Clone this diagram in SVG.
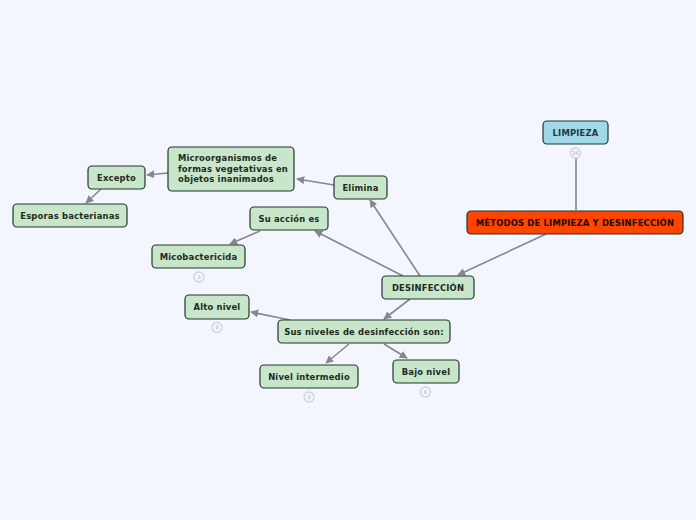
<svg xmlns="http://www.w3.org/2000/svg" width="696" height="520" viewBox="0 0 696 520">
<defs>
<marker id="ah" viewBox="0 0 10 10" refX="9" refY="5" markerWidth="8" markerHeight="8" markerUnits="userSpaceOnUse" orient="auto"><path d="M0,0 L10,5 L0,10 z" fill="#86868e"/></marker>
<style>
.n rect{fill:#c8e6c9;stroke:#25352a;stroke-width:1.2}
.n text{font-family:"DejaVu Sans",Verdana,sans-serif;font-weight:bold;font-size:8.4px;letter-spacing:0.2px;fill:#1e2a22}
.c line{stroke:#86868e;stroke-width:1.6;marker-end:url(#ah)}
.b circle{fill:#f3f6fe;stroke:#cfd1dc;stroke-width:1.3}
.b text{font-family:"DejaVu Sans",sans-serif;font-size:5px;fill:#b0b2be;text-anchor:middle}
</style>
</defs>
<rect width="696" height="520" fill="#f3f6fe"/>
<g class="c" id="connectors">
<line x1="546" y1="234" x2="458" y2="275"/>
<line x1="576" y1="210" x2="576" y2="150" style="marker-end:none"/>
<line x1="403" y1="276" x2="315" y2="231"/>
<line x1="420" y1="276" x2="370" y2="200"/>
<line x1="410" y1="299" x2="384" y2="319"/>
<line x1="334" y1="185" x2="297" y2="179"/>
<line x1="168" y1="173" x2="147" y2="175"/>
<line x1="101" y1="189" x2="86" y2="203"/>
<line x1="260" y1="231" x2="230" y2="244"/>
<line x1="290" y1="320" x2="251" y2="312"/>
<line x1="349" y1="344" x2="326" y2="363"/>
<line x1="384" y1="344" x2="407" y2="358"/>
</g>
<g class="n" id="limpieza"><rect x="543" y="121" width="65" height="23" rx="4" style="fill:#a0d8e6"/><text x="575.5" y="135.5" text-anchor="middle" style="fill:#243845">LIMPIEZA</text></g>
<g class="n" id="metodos"><rect x="467" y="211" width="216" height="23" rx="4" style="fill:#ff4500"/><text x="575" y="225.5" text-anchor="middle" style="fill:#1a0a05">MÉTODOS DE LIMPIEZA Y DESINFECCIÓN</text></g>
<g class="n" id="desinfeccion"><rect x="382" y="276" width="92" height="23" rx="4"/><text x="428" y="290.5" text-anchor="middle">DESINFECCIÓN</text></g>
<g class="n" id="elimina"><rect x="334" y="176" width="53" height="23" rx="4"/><text x="360.5" y="190.5" text-anchor="middle">Elimina</text></g>
<g class="n" id="microorganismos"><rect x="168" y="147" width="126" height="44" rx="4"/><text x="178" y="161">Microorganismos de</text><text x="178" y="171.5">formas vegetativas en</text><text x="178" y="182">objetos inanimados</text></g>
<g class="n" id="excepto"><rect x="88" y="166" width="57" height="23" rx="4"/><text x="116.5" y="180.5" text-anchor="middle">Excepto</text></g>
<g class="n" id="esporas"><rect x="13" y="204" width="114" height="23" rx="4"/><text x="70" y="218.5" text-anchor="middle">Esporas bacterianas</text></g>
<g class="n" id="accion"><rect x="250" y="207" width="78" height="23" rx="4"/><text x="289" y="221.5" text-anchor="middle">Su acción es</text></g>
<g class="n" id="micobactericida"><rect x="152" y="245" width="93" height="23" rx="4"/><text x="198.5" y="259.5" text-anchor="middle">Micobactericida</text></g>
<g class="n" id="alto"><rect x="185" y="295" width="64" height="24" rx="4"/><text x="217" y="310" text-anchor="middle">Alto nivel</text></g>
<g class="n" id="niveles"><rect x="278" y="320" width="172" height="23" rx="4"/><text x="364" y="334.5" text-anchor="middle">Sus niveles de desinfección son:</text></g>
<g class="n" id="intermedio"><rect x="260" y="365" width="98" height="23" rx="4"/><text x="309" y="379.5" text-anchor="middle">Nivel intermedio</text></g>
<g class="n" id="bajo"><rect x="393" y="360" width="66" height="23" rx="4"/><text x="426" y="374.5" text-anchor="middle">Bajo nivel</text></g>
<g class="b" id="badges">
<circle cx="575.5" cy="153" r="5"/><text x="575.5" y="154.7">26</text>
<circle cx="199" cy="277" r="5"/><text x="199" y="278.7">3</text>
<circle cx="217" cy="327.5" r="5"/><text x="217" y="329.2">8</text>
<circle cx="309" cy="397" r="5"/><text x="309" y="398.7">9</text>
<circle cx="425.5" cy="392" r="5"/><text x="425.5" y="393.7">6</text>
</g>
</svg>
